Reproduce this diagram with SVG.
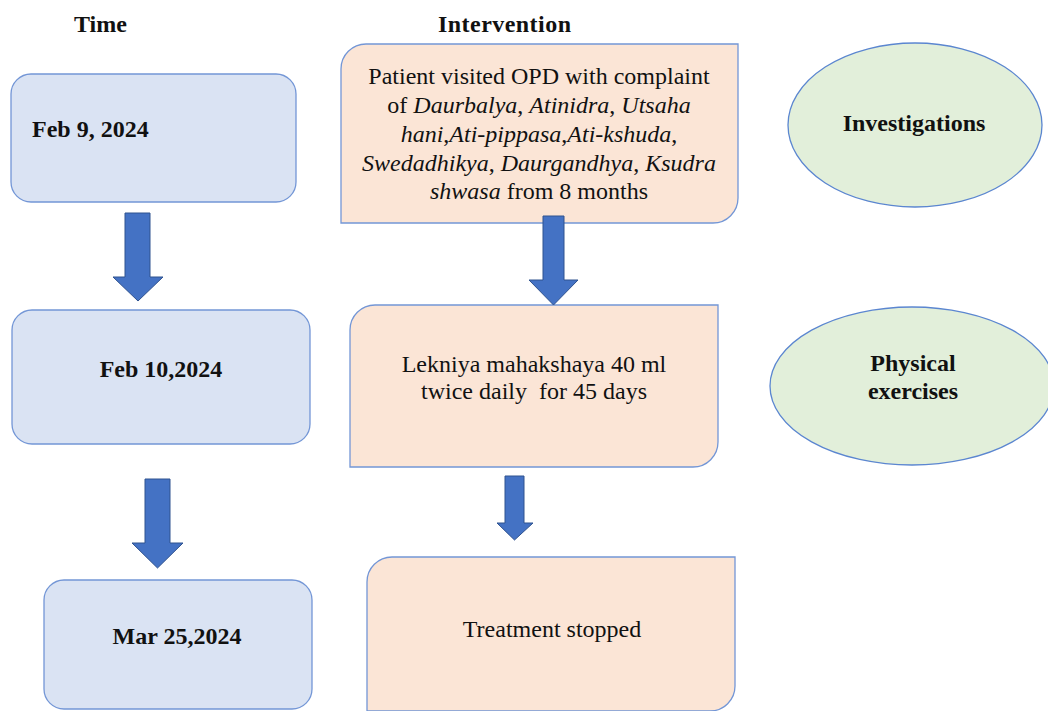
<svg xmlns="http://www.w3.org/2000/svg" width="1048" height="711" viewBox="0 0 1048 711">
<style>
.blue{fill:#dae3f3;stroke:#7396d6;stroke-width:1.3}
.orange{fill:#fbe5d6;stroke:#7396d6;stroke-width:1.3}
.green{fill:#e2efda;stroke:#5b86d0;stroke-width:1.3}
.arrow{fill:#4472c4;stroke:#2f528f;stroke-width:1}
text{fill:#111}
.b{font-weight:bold}
.c{text-anchor:middle}
.i{font-style:italic}
</style>
<rect width="1048" height="711" fill="#fff"/>
<g font-family="Liberation Serif, Times New Roman, serif" font-size="24">
<g id="headers">
<text class="b" x="74" y="32">Time</text>
<text class="b" x="438" y="32" textLength="133">Intervention</text>
</g>
<g id="feb9">
<rect class="blue" x="11" y="74" width="285" height="128" rx="20"/>
<text class="b" x="32" y="137">Feb 9, 2024</text>
</g>
<g id="feb10">
<rect class="blue" x="12" y="310" width="298" height="134" rx="20"/>
<text class="b c" x="161" y="377">Feb 10,2024</text>
</g>
<g id="mar25">
<rect class="blue" x="44" y="580" width="268" height="129" rx="20"/>
<text class="b c" x="177" y="644">Mar 25,2024</text>
</g>
<g id="visit">
<path class="orange" d="M341,69 A25,25 0 0 1 366,44 L738,44 L738,198 A25,25 0 0 1 713,223 L341,223 Z"/>
<text class="c" x="539" y="84">Patient visited OPD with complaint</text>
<text class="c" x="539" y="113">of <tspan class="i">Daurbalya</tspan>, <tspan class="i">Atinidra</tspan>, <tspan class="i">Utsaha</tspan></text>
<text class="c" x="539" y="142"><tspan class="i">hani</tspan>,<tspan class="i">Ati-pippasa</tspan>,<tspan class="i">Ati-kshuda</tspan>,</text>
<text class="c" x="539" y="171"><tspan class="i">Swedadhikya</tspan>, <tspan class="i">Daurgandhya</tspan>, <tspan class="i">Ksudra</tspan></text>
<text class="c" x="539" y="199"><tspan class="i">shwasa</tspan> from 8 months</text>
</g>
<g id="lekniya">
<path class="orange" d="M350,330 A25,25 0 0 1 375,305 L718,305 L718,442 A25,25 0 0 1 693,467 L350,467 Z"/>
<text class="c" x="534" y="372">Lekniya mahakshaya 40 ml</text>
<text class="c" x="534" y="399" xml:space="preserve">twice daily  for 45 days</text>
</g>
<g id="stopped">
<path class="orange" d="M367,582 A25,25 0 0 1 392,557 L735,557 L735,686 A25,25 0 0 1 710,711 L367,711 Z"/>
<text class="c" x="552" y="637">Treatment stopped</text>
</g>
<g id="investigations">
<ellipse class="green" cx="915" cy="125" rx="127" ry="82"/>
<text class="b c" x="914" y="131">Investigations</text>
</g>
<g id="exercises">
<ellipse class="green" cx="912" cy="386" rx="142" ry="79"/>
<text class="b c" x="913" y="371">Physical</text>
<text class="b c" x="913" y="399">exercises</text>
</g>
</g>
<g id="connectors">
<path class="arrow" d="M125,213 L150,213 L150,277 L163,277 L138,301 L113,277 L125,277 Z"/>
<path class="arrow" d="M145,479 L170,479 L170,543 L183,543 L157.5,568 L132,543 L145,543 Z"/>
<path class="arrow" d="M543,216 L564,216 L564,280 L578,280 L553.5,305 L529,280 L543,280 Z"/>
<path class="arrow" d="M505,476 L524,476 L524,523 L533,523 L514.5,540 L497,523 L505,523 Z"/>
</g>
</svg>
